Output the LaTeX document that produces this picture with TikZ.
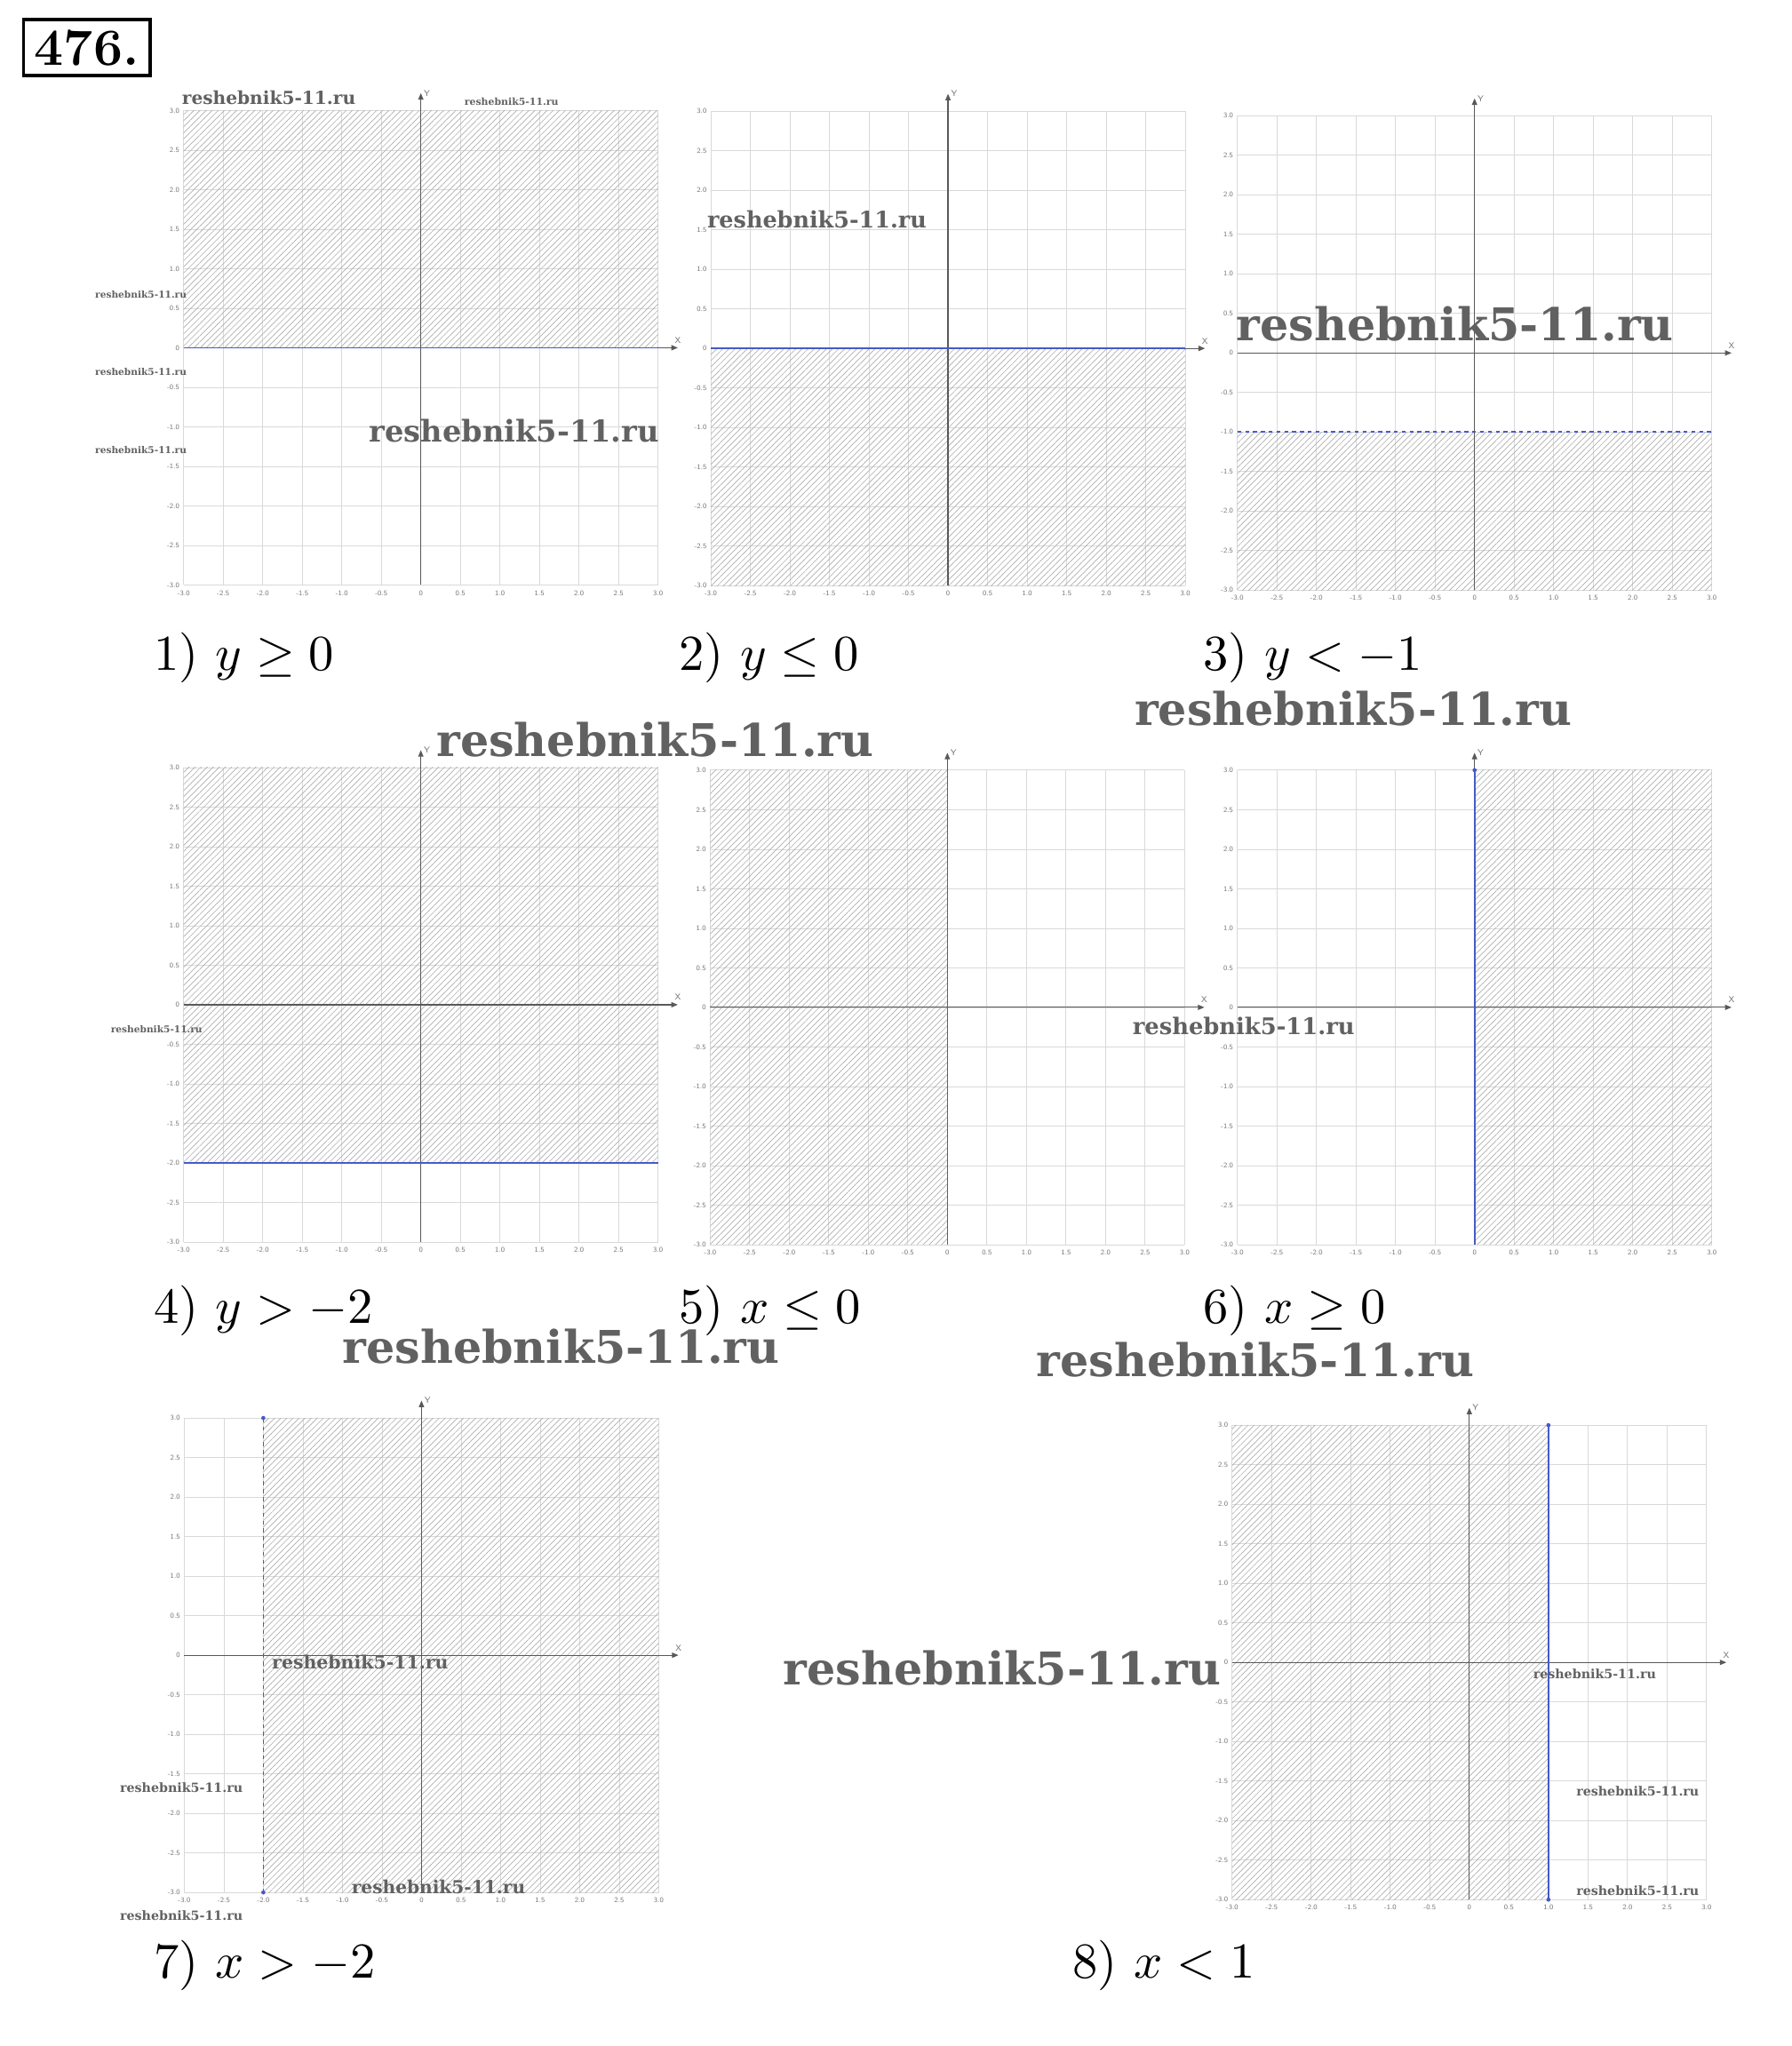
\documentclass[tikz,border=0pt]{standalone}
\usepackage{fontspec}
\usepackage{graphicx}
\usetikzlibrary{arrows.meta,patterns.meta}
\newfontfamily\wmfont{DejaVu Serif}
\definecolor{bndblue}{RGB}{70,90,200}

\tikzset{
  gridline/.style={black!15, line width=0.5pt},
  axisline/.style={black!65, line width=0.8pt, -{Triangle[length=5pt,width=4pt]}},
  hatch/.style={pattern={Lines[angle=45,distance=3.3pt,line width=0.45pt]}, pattern color=black!32},
  border/.style={bndblue, line width=1.1pt},
  ticklab/.style={font=\sffamily\fontsize{5.5}{6}\selectfont, text=black!55, inner sep=1pt},
  axlab/.style={font=\sffamily\fontsize{6.5}{7}\selectfont, text=black!55, inner sep=1pt},
  answer/.style={anchor=base west, inner sep=0pt},
  numbox/.style={draw, line width=2.5pt, minimum width=97pt, minimum height=43pt,
    font=\bfseries\fontsize{40}{42}\selectfont, inner sep=2pt},
  wmark/.style={font=\wmfont\bfseries, text=black!62, inner sep=0pt},
  plane/.style={shift={#1}, x=60.6pt, y=60.6pt},
}

% grid, tick labels of one plane; #1 = name prefix
\newcommand\planegrid[1]{%
  \foreach \t in {-3,-2.5,...,3}{
    \draw[gridline] (\t,-3) -- (\t,3);
    \draw[gridline] (-3,\t) -- (3,\t);
  }
  \foreach \t/\s [count=\i] in {-3/-3.0,-2.5/-2.5,-2/-2.0,-1.5/-1.5,-1/-1.0,-0.5/-0.5,0/0,
      0.5/0.5,1/1.0,1.5/1.5,2/2.0,2.5/2.5,3/3.0}{
    \node[ticklab, below=3pt] (#1x\i) at (\t,-3) {\s};
    \node[ticklab, left=2pt] (#1y\i) at (-3,\t) {\s};
  }
}
% axes with arrows
\newcommand\planeaxes[1]{%
  \draw[axisline] (-3,0) -- (3.25,0) node[axlab, above=2pt] (#1X) {X};
  \draw[axisline] (0,-3) -- (0,3.22) node[axlab, right=1pt] (#1Y) {Y};
}
% big answer text
\newcommand\anstext[1]{\scalebox{3.85}{#1}}

\begin{document}
\begin{tikzpicture}[x=1pt, y=-1pt]
\useasboundingbox (0,0) rectangle (1373,1568);
\node[numbox] (num) at (66.5,36.5) {476.};

% 1) y >= 0
\begin{scope}[plane={(322.5,266.5)}]
  \planegrid{a}
  \fill[hatch] (-3,0) rectangle (3,3);
  \planeaxes{a}
  \draw[border] (-3,0) -- (3,0);
\end{scope}
% 2) y <= 0
\begin{scope}[plane={(726.5,267)}]
  \planegrid{b}
  \fill[hatch] (-3,-3) rectangle (3,0);
  \planeaxes{b}
  \draw[border] (-3,0) -- (3,0);
\end{scope}
% 3) y < -1
\begin{scope}[plane={(1130,270.5)}]
  \planegrid{c}
  \fill[hatch] (-3,-3) rectangle (3,-1);
  \planeaxes{c}
  \draw[border, dashed] (-3,-1) -- (3,-1);
\end{scope}
% 4) y > -2
\begin{scope}[plane={(322.5,770)}]
  \planegrid{d}
  \fill[hatch] (-3,-2) rectangle (3,3);
  \planeaxes{d}
  \draw[border] (-3,-2) -- (3,-2);
\end{scope}
% 5) x <= 0
\begin{scope}[plane={(726,772)}]
  \planegrid{e}
  \fill[hatch] (-3,-3) rectangle (0,3);
  \planeaxes{e}
  \draw[border] (0,-3) -- (0,3);
\end{scope}
% 6) x >= 0
\begin{scope}[plane={(1130,772)}]
  \planegrid{f}
  \fill[hatch] (0,-3) rectangle (3,3);
  \planeaxes{f}
  \draw[border] (0,-3) -- (0,3);
  \fill[bndblue] (0,3) circle (1.6pt);
\end{scope}
% 7) x > -2
\begin{scope}[plane={(323,1268.5)}]
  \planegrid{g}
  \fill[hatch] (-2,-3) rectangle (3,3);
  \planeaxes{g}
  \draw[border, dashed] (-2,-3) -- (-2,3);
  \fill[bndblue] (-2,3) circle (1.6pt) (-2,-3) circle (1.6pt);
\end{scope}
% 8) x < 1
\begin{scope}[plane={(1126,1274)}]
  \planegrid{h}
  \fill[hatch] (-3,-3) rectangle (1,3);
  \planeaxes{h}
  \draw[border] (1,-3) -- (1,3);
  \fill[bndblue] (1,3) circle (1.6pt) (1,-3) circle (1.6pt);
\end{scope}

\node[answer] (ans1) at (118,514) {\anstext{1) $y \geq 0$}};
\node[answer] (ans2) at (520,514) {\anstext{2) $y \leq 0$}};
\node[answer] (ans3) at (922,514) {\anstext{3) $y < -1$}};
\node[answer] (ans4) at (118,1014) {\anstext{4) $y > -2$}};
\node[answer] (ans5) at (520,1014) {\anstext{5) $x \leq 0$}};
\node[answer] (ans6) at (922,1014) {\anstext{6) $x \geq 0$}};
\node[answer] (ans7) at (118,1516) {\anstext{7) $x > -2$}};
\node[answer] (ans8) at (822,1516) {\anstext{8) $x < 1$}};

% watermarks
\foreach \wx/\wy/\ww [count=\i] in {206/75/133, 392/78/72, 108/226/70, 108/285/70,
    108/345/70, 394/330/222, 626/168/168, 1115/248/335, 1037/543/335, 502/567/335,
    120/789/70, 430/1032/335, 953/786/170, 962/1042/335, 276/1274/135, 139/1370/94,
    336/1446/133, 139/1468/94, 768/1278/335, 1222/1283/94, 1255/1373/94, 1255/1449/94}
  \node[wmark] (wm\i) at (\wx,\wy) {\resizebox{\ww pt}{!}{reshebnik5-11.ru}};
\end{tikzpicture}
\end{document}
